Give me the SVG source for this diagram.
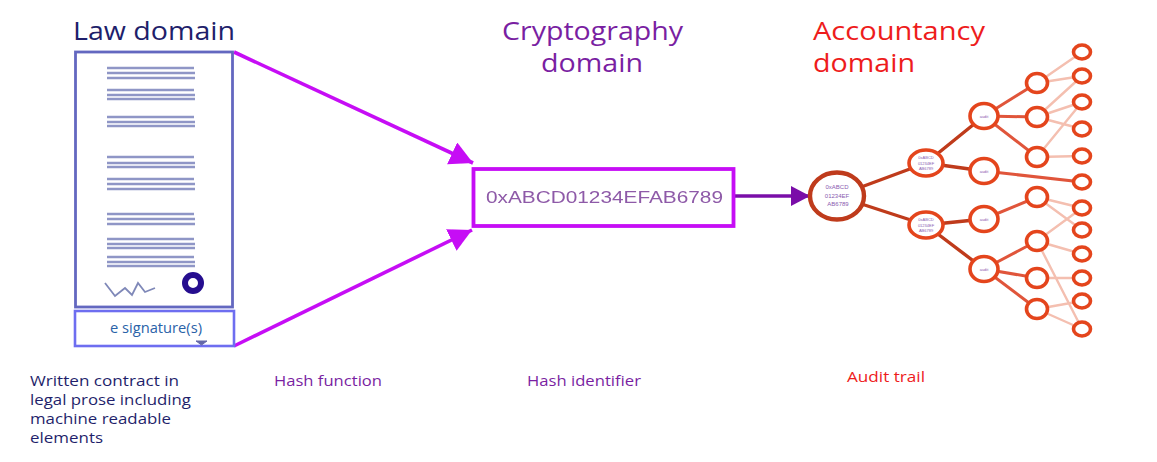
<svg xmlns="http://www.w3.org/2000/svg" width="1157" height="462" viewBox="0 0 1157 462">
<style>
text{font-family:"Open Sans","Noto Sans","Liberation Sans",sans-serif}
.t{font-size:25px;font-weight:500}
.c{font-size:14px;font-weight:500}
.law{fill:#1f1f6b}.cry{fill:#7a1fa2}.acc{fill:#ee1c1c}
.ln{stroke:#8f96c6;stroke-width:2.6;fill:none}
.e1{stroke:#bf3a1a;stroke-width:3.4;fill:none}
.e2{stroke:#e0553a;stroke-width:3;fill:none}
.e3{stroke:#f4bfb0;stroke-width:2.4;fill:none}
.n{fill:#fff;stroke:#e4451f;stroke-width:3.6}
.m{font-size:4px;fill:#8a5bb0;text-anchor:middle;font-family:"Liberation Sans",sans-serif}
.r{font-size:6px}
</style>
<defs>
<filter id="b" filterUnits="userSpaceOnUse" x="0" y="0" width="1157" height="462"><feGaussianBlur stdDeviation="0.6"/></filter>
<filter id="b3" filterUnits="userSpaceOnUse" x="0" y="0" width="1157" height="462"><feGaussianBlur stdDeviation="0.55"/></filter>
<filter id="bt" filterUnits="userSpaceOnUse" x="0" y="0" width="1157" height="462"><feGaussianBlur stdDeviation="0.45"/></filter>
<marker id="h1" markerUnits="userSpaceOnUse" markerWidth="26" markerHeight="26" refX="23" refY="12" orient="auto"><path d="M0 0 23 12 0 24z" fill="#c60cf5"/></marker>
<marker id="h2" markerUnits="userSpaceOnUse" markerWidth="20" markerHeight="24" refX="19" refY="12" orient="auto"><path d="M0 2 19 12 0 22z" fill="#7a0fa8"/></marker>
</defs>
<rect width="1157" height="462" fill="#fff"/>
<g id="titles">
<text class="t law" x="73" y="40" textLength="162" lengthAdjust="spacingAndGlyphs">Law domain</text>
<text class="t cry" x="502" y="40" textLength="181" lengthAdjust="spacingAndGlyphs">Cryptography</text>
<text class="t cry" x="541" y="72" textLength="102" lengthAdjust="spacingAndGlyphs">domain</text>
<text class="t acc" x="813" y="40" textLength="172" lengthAdjust="spacingAndGlyphs">Accountancy</text>
<text class="t acc" x="813" y="72" textLength="102" lengthAdjust="spacingAndGlyphs">domain</text>
</g>
<g id="connectors">
<g filter="url(#b)">
<path d="M234 52 473 163" stroke="#c60cf5" stroke-width="3.6" fill="none" marker-end="url(#h1)"/>
<path d="M234 346 472 230" stroke="#c60cf5" stroke-width="3.6" fill="none" marker-end="url(#h1)"/>
<path d="M735 196H810" stroke="#7a0fa8" stroke-width="3.6" fill="none" marker-end="url(#h2)"/>
</g>
<g id="tree-edges" filter="url(#b)">
<path class="e3" d="M1037 83 1082 52M1037 83 1082 76M1037 117 1082 76M1037 117 1082 102M1037 117 1082 129M1037 157 1082 102M1037 157 1082 156M1037 197 1082 208M1037 197 1082 230M1037 241 1082 208M1037 241 1082 254M1037 241 1082 329M1037 278 1082 278M1037 309 1082 301M1037 309 1082 329"/>
<path class="e2" d="M984 116 1037 83M984 116 1037 117M984 116 1037 157M984 171 1082 182M984 219 1037 197M984 269 1037 241M984 269 1037 278M984 269 1037 309"/>
<path class="e1" d="M837 196 926 163M837 196 926 225M926 163 984 116M926 163 984 171M926 225 984 219M926 225 984 269"/>
</g>
</g>
<g id="contract">
<rect x="75.5" y="52" width="157" height="255" fill="#fff" stroke="#6468c0" stroke-width="2.8" filter="url(#b)"/>
<path class="ln" filter="url(#b3)" d="M107 68H194M107 73H195M107 78H195M107 90H194M107 95H195M107 99H195M107 117H194M107 122H195M107 126H195M107 157H194M107 163H195M107 167H195M107 179H194M107 184H195M107 189H195M107 214H194M107 219H195M107 224H195M107 239H194M107 244H195M107 248H195M107 257H194M107 262H195M107 266H195"/>
<path filter="url(#b)" d="M105 283 115 296 125 288 132 295 138 283 145 292 155 288" fill="none" stroke="#7f88b8" stroke-width="1.8"/>
<circle cx="193" cy="283" r="8" fill="#fff" stroke="#25108f" stroke-width="6" filter="url(#b)"/>
</g>
<g id="esignature">
<rect x="75" y="311" width="159" height="35" fill="#fff" stroke="#6e6ef0" stroke-width="2.6" filter="url(#b)"/>
<text x="110" y="333" font-size="13.6" fill="#2a62a8" textLength="92" lengthAdjust="spacingAndGlyphs">e signature(s)</text>
<path d="M196 341 207 341 201.500 345z" fill="#6468a8" stroke="#6468a8" stroke-width="1" filter="url(#b)"/>
</g>
<g id="hash">
<rect x="473.5" y="169" width="260" height="57" fill="#fff" stroke="#c60cf5" stroke-width="3.8" filter="url(#b)"/>
<text x="486" y="203" font-size="17" textLength="237" lengthAdjust="spacingAndGlyphs" fill="#8e5aa8" filter="url(#bt)" style="font-family:'Liberation Sans',sans-serif">0xABCD01234EFAB6789</text>
</g>
<g id="tree-root">
<ellipse cx="837" cy="196" rx="27" ry="23.5" fill="#fff" stroke="#bf3a1a" stroke-width="4.4" filter="url(#b)"/>
<text class="m r" x="837" y="189">0xABCD</text><text class="m r" x="837" y="198">01234EF</text><text class="m r" x="838" y="206">AB6789</text>
</g>
<g id="tree-l1">
<g id="n926a"><ellipse class="n" cx="926" cy="163" rx="17" ry="13" filter="url(#b)"/><text class="m" x="926" y="159">0xABCD</text><text class="m" x="926" y="165">01234EF</text><text class="m" x="926" y="170">AB6789</text></g>
<g id="n926b"><ellipse class="n" cx="926" cy="225" rx="17" ry="13" filter="url(#b)"/><text class="m" x="926" y="221">0xABCD</text><text class="m" x="926" y="227">01234EF</text><text class="m" x="926" y="232">AB6789</text></g>
</g>
<g id="tree-l2">
<g id="n984a"><ellipse class="n" cx="984" cy="116" rx="14" ry="12.500" filter="url(#b)"/><text class="m" x="984" y="117.500">audit</text></g>
<g id="n984b"><ellipse class="n" cx="984" cy="171" rx="14" ry="12.500" filter="url(#b)"/><text class="m" x="984" y="172.500">audit</text></g>
<g id="n984c"><ellipse class="n" cx="984" cy="219" rx="14" ry="12.500" filter="url(#b)"/><text class="m" x="984" y="220.500">audit</text></g>
<g id="n984d"><ellipse class="n" cx="984" cy="269" rx="14" ry="12.500" filter="url(#b)"/><text class="m" x="984" y="270.500">audit</text></g>
</g>
<g id="tree-l3" filter="url(#b)">
<ellipse id="n1" class="n" cx="1037" cy="83" rx="10.500" ry="9.500"/>
<ellipse id="n2" class="n" cx="1037" cy="117" rx="10.500" ry="9.500"/>
<ellipse id="n3" class="n" cx="1037" cy="157" rx="10.500" ry="9.500"/>
<ellipse id="n4" class="n" cx="1037" cy="197" rx="10.500" ry="9.500"/>
<ellipse id="n5" class="n" cx="1037" cy="241" rx="10.500" ry="9.500"/>
<ellipse id="n6" class="n" cx="1037" cy="278" rx="10.500" ry="9.500"/>
<ellipse id="n7" class="n" cx="1037" cy="309" rx="10.500" ry="9.500"/>
</g>
<g id="tree-leaves" filter="url(#b)">
<ellipse id="l1" class="n" cx="1082" cy="52" rx="8.500" ry="7"/>
<ellipse id="l2" class="n" cx="1082" cy="76" rx="8.500" ry="7"/>
<ellipse id="l3" class="n" cx="1082" cy="102" rx="8.500" ry="7"/>
<ellipse id="l4" class="n" cx="1082" cy="129" rx="8.500" ry="7"/>
<ellipse id="l5" class="n" cx="1082" cy="156" rx="8.500" ry="7"/>
<ellipse id="l6" class="n" cx="1082" cy="182" rx="8.500" ry="7"/>
<ellipse id="l7" class="n" cx="1082" cy="208" rx="8.500" ry="7"/>
<ellipse id="l8" class="n" cx="1082" cy="230" rx="8.500" ry="7"/>
<ellipse id="l9" class="n" cx="1082" cy="254" rx="8.500" ry="7"/>
<ellipse id="l10" class="n" cx="1082" cy="278" rx="8.500" ry="7"/>
<ellipse id="l11" class="n" cx="1082" cy="301" rx="8.500" ry="7"/>
<ellipse id="l12" class="n" cx="1082" cy="329" rx="8.500" ry="7"/>
</g>
<g id="captions">
<text class="c law" x="30" y="386" textLength="149" lengthAdjust="spacingAndGlyphs">Written contract in</text>
<text class="c law" x="30" y="405" textLength="161" lengthAdjust="spacingAndGlyphs">legal prose including</text>
<text class="c law" x="30" y="424" textLength="141" lengthAdjust="spacingAndGlyphs">machine readable</text>
<text class="c law" x="30" y="443" textLength="73" lengthAdjust="spacingAndGlyphs">elements</text>
<text class="c cry" x="274" y="386" textLength="108" lengthAdjust="spacingAndGlyphs">Hash function</text>
<text class="c cry" x="527" y="386" textLength="114" lengthAdjust="spacingAndGlyphs">Hash identifier</text>
<text class="c acc" x="847" y="382" textLength="78" lengthAdjust="spacingAndGlyphs">Audit trail</text>
</g>
</svg>
